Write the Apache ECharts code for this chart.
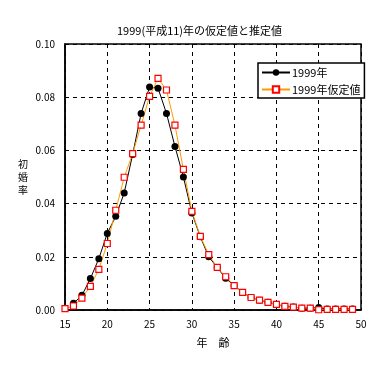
<!DOCTYPE html>
<html><head><meta charset="utf-8">
<script src="https://cdn.jsdelivr.net/npm/echarts@6/dist/echarts.min.js"></script>
<style>html,body{margin:0;padding:0;background:#fff}#c{width:376px;height:365px}</style>
</head><body><div id="c"></div>
<script>
var titleText = '1999(平成11)年の仮定値と推定値';
var seriesNames = ['1999年', '1999年仮定値'];
var agesActual = [16,17,18,19,20,21,22,23,24,25,26,27,28,29,30,31,32,33,34,35,36,37,38,39,40,41,42,43,44,45,46,47,48,49];
var valuesActual = [0.0025,0.0055,0.0118,0.0193,0.0288,0.0352,0.0440,0.0585,0.0739,0.0838,0.0834,0.0739,0.0615,0.0500,0.0365,0.0275,0.0200,0.0160,0.0119,0.0092,0.0066,0.0047,0.0037,0.0029,0.0021,0.0014,0.0011,0.0007,0.0007,0.0009,0.0004,0.0004,0.0004,0.0004];
var agesAssumed = [15,16,17,18,19,20,21,22,23,24,25,26,27,28,29,30,31,32,33,34,35,36,37,38,39,40,41,42,43,44,45,46,47,48,49];
var valuesAssumed = [0.0005,0.0015,0.0045,0.0089,0.0153,0.0250,0.0375,0.0499,0.0588,0.0695,0.0803,0.0871,0.0827,0.0695,0.0529,0.0371,0.0277,0.0208,0.0160,0.0125,0.0092,0.0066,0.0047,0.0037,0.0029,0.0021,0.0014,0.0011,0.0007,0.0007,0.0001,0.0002,0.0002,0.0002,0.0002];
var xAxisName = '年　齢';
var yAxisName = '初\n婚\n率';

function pairs(xs, ys){ return xs.map(function(x,i){ return [x, ys[i]]; }); }
var font = '"Noto Sans CJK JP", sans-serif';
var chart = echarts.init(document.getElementById('c'), null, {renderer:'canvas'});
chart.setOption({
  animation:false,
  backgroundColor:'#fff',
  textStyle:{fontFamily:font},
  title:{text:titleText, left:112, top:20, textStyle:{fontSize:11, fontWeight:'normal', color:'#000', fontFamily:font}},
  grid:{left:65, right:15, top:44, bottom:55, show:true, borderColor:'#000', borderWidth:1.5, backgroundColor:'transparent'},
  legend:{
    orient:'vertical', left:258, top:63, padding:[4,4,3,3], itemGap:6,
    itemWidth:28, itemHeight:8,
    backgroundColor:'#fff', borderColor:'#000', borderWidth:1.5,
    textStyle:{fontSize:11, color:'#000', fontFamily:font, padding:[0,0,0,-3]},
    data:seriesNames
  },
  xAxis:{
    type:'value', min:15, max:50, interval:5,
    name:xAxisName, nameLocation:'middle', nameGap:27,
    nameTextStyle:{fontSize:11, color:'#000', fontFamily:font},
    axisLine:{show:true, lineStyle:{color:'#000', width:1.5}},
    axisTick:{show:false},
    axisLabel:{color:'#000', fontSize:10, margin:9, fontFamily:font},
    splitLine:{show:true, lineStyle:{color:'#000', type:[4,4], width:1}}
  },
  yAxis:{
    type:'value', min:0, max:0.1, interval:0.02,
    name:yAxisName, nameLocation:'middle', nameGap:37, nameRotate:0,
    nameTextStyle:{fontSize:10, color:'#000', lineHeight:13, fontFamily:font, padding:[0,0,8,0]},
    axisLine:{show:true, lineStyle:{color:'#000', width:1.5}},
    axisTick:{show:false},
    axisLabel:{color:'#000', fontSize:10, margin:10, fontFamily:font, formatter:function(v){return v.toFixed(2);}},
    splitLine:{show:true, lineStyle:{color:'#000', type:[4,4], width:1}}
  },
  series:[
    {name:seriesNames[0], type:'line', data:pairs(agesActual, valuesActual),
     symbol:'circle', symbolSize:7, showAllSymbol:true,
     lineStyle:{color:'#000', width:1}, itemStyle:{color:'#000', borderColor:'#000', borderWidth:0}},
    {name:seriesNames[1], type:'line', data:pairs(agesAssumed, valuesAssumed),
     symbol:'rect', symbolSize:6, showAllSymbol:true,
     lineStyle:{color:'#FF9900', width:1}, itemStyle:{color:'#fff', borderColor:'#FF0000', borderWidth:1.2}}
  ]
});
</script></body></html>
